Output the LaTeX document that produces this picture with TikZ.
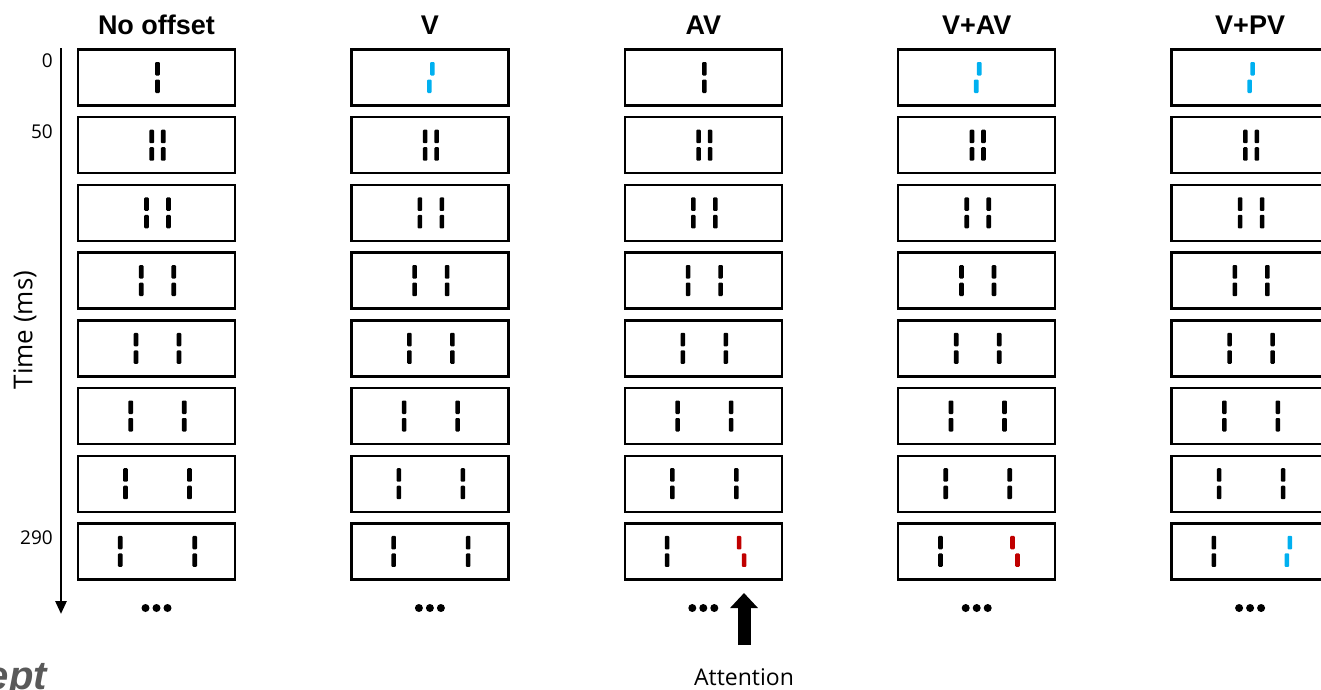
\documentclass[tikz,border=0pt]{standalone}
\usepackage{fontspec}
\setmainfont{Open Sans}
\newfontfamily\headfont{Liberation Sans}
\usetikzlibrary{arrows.meta}
\definecolor{cueblue}{HTML}{00B0F0}
\definecolor{cuered}{HTML}{C00000}
\definecolor{titlegray}{HTML}{595959}
\newcommand{\vern}[4][black]{%
  \fill[#1,rounded corners=1pt] (#2+#4/2-2.3,#3-15.5) rectangle (#2+#4/2+2.3,#3-2);
  \fill[#1,rounded corners=1pt] (#2-#4/2-2.3,#3+2) rectangle (#2-#4/2+2.3,#3+15.5);
}
\begin{document}
\begin{tikzpicture}[x=1pt,y=-1pt]
                      \tikzstyle{frame}=[draw,line width=2.4pt,minimum width=157pt,minimum height=56pt,inner sep=0pt]
                      \tikzstyle{head}=[font=\headfont\bfseries\fontsize{27}{27}\selectfont]
                      \tikzstyle{tick}=[anchor=east,inner sep=0pt,font=\fontsize{19}{19}\selectfont]
                      \useasboundingbox (0,0) rectangle (1321,689);
                      \foreach \c/\name/\firstcol/\firstoff/\lastcol/\lastoff in {1/No offset/black/0/black/0, 2/V/cueblue/3/black/0, 3/AV/black/0/cuered/-5, 4/V+AV/cueblue/3/cuered/-5, 5/V+PV/cueblue/3/cueblue/3}{
                        \pgfmathsetmacro{\cx}{156.5+273.4*(\c-1)}
                        \node[head] (h\c) at (\cx,25) {\name};
                        \foreach \r in {1,...,8}{
                          \pgfmathsetmacro{\cy}{77.5+67.7*(\r-1)}
                          \node[frame] (b\c\r) at (\cx,\cy) {};
                        }
                        \vern[\firstcol]{\cx+1}{77.5}{\firstoff}
                        \foreach \r in {2,...,7}{
                          \pgfmathsetmacro{\cy}{77.5+67.7*(\r-1)}
                          \pgfmathsetmacro{\s}{(10.5*(\r-1)+1)/2}
                          \vern{\cx+1-\s}{\cy}{0}
                          \vern{\cx+1+\s}{\cy}{0}
                        }
                        \vern{\cx+1-37.25}{551.4}{0}
                        \vern[\lastcol]{\cx+1+37.25}{551.4}{\lastoff}
                        \foreach \d in {-11,0,11} \fill (\cx+\d,608) circle (4);
                      }
                      \coordinate (tstart) at (61,48);
                      \coordinate (tend) at (61,614);
                      \draw[line width=2.7pt,-{Triangle[width=11pt,length=13pt]}] (tstart) -- (tend);
                      \node[tick] (l0) at (53,61) {0};
                      \node[tick] (l50) at (53,132) {50};
                      \node[tick] (l290) at (53,538) {290};
                      \node[rotate=90,font=\fontsize{26}{26}\selectfont] (tlabel) at (25,330) {Time (ms)};
                      \coordinate (abase) at (744,645);
                      \coordinate (atip) at (744,593);
                      \draw[line width=13pt,-{Triangle[width=27pt,length=15pt]}] (abase) -- (atip);
                      \node[font=\fontsize{23}{23}\selectfont] (att) at (744,677) {Attention};
                      \node[anchor=base east,inner sep=0pt,text=titlegray,font=\headfont\bfseries\itshape\fontsize{40}{40}\selectfont] (concept) at (47,689) {ept};
                  \end{tikzpicture}
\end{document}
